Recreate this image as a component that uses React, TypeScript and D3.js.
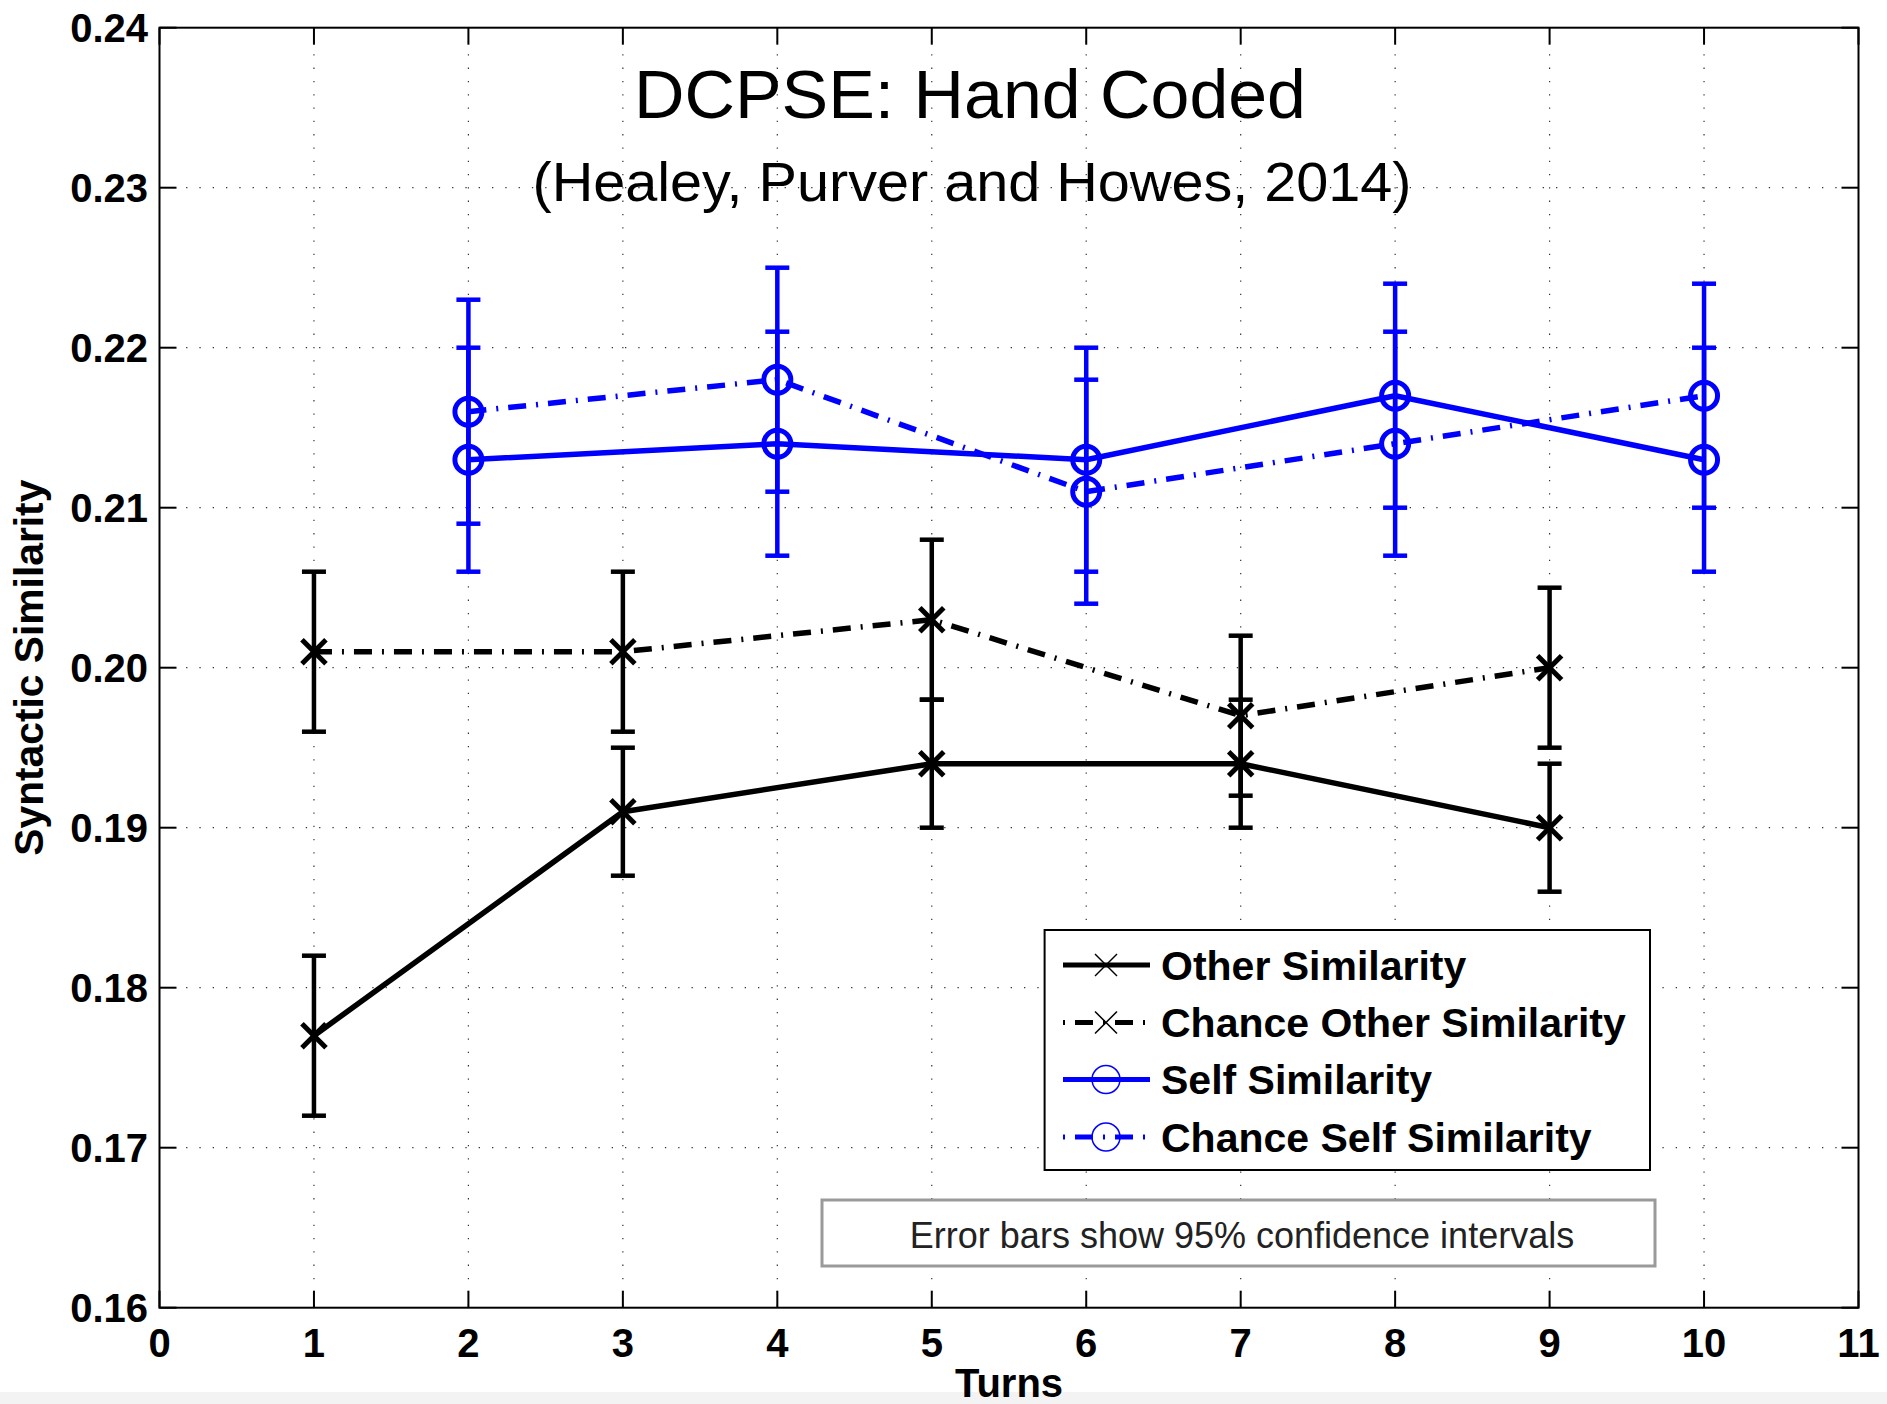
import React from 'react'
import * as d3 from 'd3'

// chart values
const otherTurns = [1, 3, 5, 7, 9]
const otherMean = [0.177, 0.191, 0.194, 0.194, 0.19]
const otherLow = [0.172, 0.187, 0.19, 0.19, 0.186]
const otherHigh = [0.182, 0.195, 0.198, 0.198, 0.194]

const chanceOtherMean = [0.201, 0.201, 0.203, 0.197, 0.2]
const chanceOtherLow = [0.196, 0.196, 0.198, 0.192, 0.195]
const chanceOtherHigh = [0.206, 0.206, 0.208, 0.202, 0.205]

const selfTurns = [2, 4, 6, 8, 10]
const selfMean = [0.213, 0.214, 0.213, 0.217, 0.213]
const selfLow = [0.206, 0.207, 0.206, 0.21, 0.206]
const selfHigh = [0.22, 0.221, 0.22, 0.224, 0.22]

const chanceSelfMean = [0.216, 0.218, 0.211, 0.214, 0.217]
const chanceSelfLow = [0.209, 0.211, 0.204, 0.207, 0.21]
const chanceSelfHigh = [0.223, 0.225, 0.218, 0.221, 0.224]

const xTicks = [0, 1, 2, 3, 4, 5, 6, 7, 8, 9, 10, 11]
const yTicks = [0.16, 0.17, 0.18, 0.19, 0.2, 0.21, 0.22, 0.23, 0.24]
const yTickLabels = ['0.16', '0.17', '0.18', '0.19', '0.20', '0.21', '0.22', '0.23', '0.24']

const legendLabels = ['Other Similarity', 'Chance Other Similarity', 'Self Similarity', 'Chance Self Similarity']

const W = 1887
const H = 1404
const FONT = "'Liberation Sans', Arial, Helvetica, sans-serif"
const BLUE = '#0000ff'
const DASHDOT = '18,10,2,10'

const plot = { left: 159.5, right: 1858.5, top: 27.7, bottom: 1307.7 }

type Series = {
  name: string
  turns: number[]
  mean: number[]
  low: number[]
  high: number[]
  color: string
  dash: string | null
  marker: 'x' | 'o'
}

const series: Series[] = [
  { name: legendLabels[0], turns: otherTurns, mean: otherMean, low: otherLow, high: otherHigh, color: '#000', dash: null, marker: 'x' },
  { name: legendLabels[1], turns: otherTurns, mean: chanceOtherMean, low: chanceOtherLow, high: chanceOtherHigh, color: '#000', dash: DASHDOT, marker: 'x' },
  { name: legendLabels[2], turns: selfTurns, mean: selfMean, low: selfLow, high: selfHigh, color: BLUE, dash: null, marker: 'o' },
  { name: legendLabels[3], turns: selfTurns, mean: chanceSelfMean, low: chanceSelfLow, high: chanceSelfHigh, color: BLUE, dash: DASHDOT, marker: 'o' },
]

const Marker = ({ kind, cx, cy, color, size, width }: { kind: 'x' | 'o'; cx: number; cy: number; color: string; size: number; width: number }) => {
  if (kind === 'o') {
    return <circle cx={cx} cy={cy} r={size} fill="none" stroke={color} strokeWidth={width} />
  }
  return (
    <g stroke={color} strokeWidth={width}>
      <line x1={cx - size} y1={cy - size} x2={cx + size} y2={cy + size} />
      <line x1={cx - size} y1={cy + size} x2={cx + size} y2={cy - size} />
    </g>
  )
}

export default function App() {
  const x = d3.scaleLinear().domain([0, 11]).range([plot.left, plot.right])
  const y = d3.scaleLinear().domain([0.16, 0.24]).range([plot.bottom, plot.top])

  const line = d3
    .line<[number, number]>()
    .x((d) => x(d[0]))
    .y((d) => y(d[1]))

  const tickLen = 17
  const capHalf = 12

  // legend layout
  const lg = { x: 1044.6, y: 930, w: 605.4, h: 240 }
  const rowY = [965, 1022.5, 1079.5, 1137]

  return (
    <div style={{ position: 'absolute', left: 0, top: 0 }}>
      <svg width={W} height={H} style={{ display: 'block', background: '#fff' }} fontFamily={FONT}>
        <rect x={0} y={0} width={W} height={H} fill="#fff" />
        <rect x={0} y={1392} width={W} height={12} fill="#f3f3f3" />

        {/* grid */}
        <g stroke="#333" strokeWidth={1.2} strokeDasharray="1.3,12">
          {xTicks.slice(1, -1).map((t) => (
            <line key={'gx' + t} x1={x(t)} x2={x(t)} y1={plot.top} y2={plot.bottom} />
          ))}
          {yTicks.slice(1, -1).map((t) => (
            <line key={'gy' + t} x1={plot.left} x2={plot.right} y1={y(t)} y2={y(t)} />
          ))}
        </g>

        {/* ticks on all four sides */}
        <g stroke="#000" strokeWidth={2}>
          {xTicks.map((t) => (
            <g key={'tx' + t}>
              <line x1={x(t)} x2={x(t)} y1={plot.bottom} y2={plot.bottom - tickLen} />
              <line x1={x(t)} x2={x(t)} y1={plot.top} y2={plot.top + tickLen} />
            </g>
          ))}
          {yTicks.map((t) => (
            <g key={'ty' + t}>
              <line x1={plot.left} x2={plot.left + tickLen} y1={y(t)} y2={y(t)} />
              <line x1={plot.right} x2={plot.right - tickLen} y1={y(t)} y2={y(t)} />
            </g>
          ))}
        </g>

        {/* title */}
        <text x={970} y={118} textAnchor="middle" fontSize={69} fill="#000" textLength={672} lengthAdjust="spacingAndGlyphs">
          DCPSE: Hand Coded
        </text>
        <text x={972} y={201} textAnchor="middle" fontSize={56} fill="#000" textLength={879} lengthAdjust="spacingAndGlyphs">
          (Healey, Purver and Howes, 2014)
        </text>

        {/* series */}
        {series.map((s) => {
          const pts = s.turns.map((t, i) => [t, s.mean[i]] as [number, number])
          return (
            <g key={s.name}>
              {s.turns.map((t, i) => (
                <g key={'eb' + i} stroke={s.color} strokeWidth={4.5}>
                  <line x1={x(t)} x2={x(t)} y1={y(s.low[i])} y2={y(s.high[i])} />
                  <line x1={x(t) - capHalf} x2={x(t) + capHalf} y1={y(s.low[i])} y2={y(s.low[i])} />
                  <line x1={x(t) - capHalf} x2={x(t) + capHalf} y1={y(s.high[i])} y2={y(s.high[i])} />
                </g>
              ))}
              <path
                d={line(pts) || ''}
                fill="none"
                stroke={s.color}
                strokeWidth={5.5}
                strokeDasharray={s.dash || undefined}
                strokeLinejoin="round"
              />
              {pts.map((p, i) => (
                <Marker key={'m' + i} kind={s.marker} cx={x(p[0])} cy={y(p[1])} color={s.color} size={s.marker === 'o' ? 13.5 : 12} width={5} />
              ))}
            </g>
          )
        })}

        {/* axes frame */}
        <rect x={plot.left} y={plot.top} width={plot.right - plot.left} height={plot.bottom - plot.top} fill="none" stroke="#000" strokeWidth={2} />

        {/* tick labels */}
        <g fontSize={40} fontWeight="bold" fill="#000">
          {yTicks.map((t, i) => (
            <text key={'ly' + t} x={148} y={y(t) + 14.5} textAnchor="end">
              {yTickLabels[i]}
            </text>
          ))}
          {xTicks.map((t) => (
            <text key={'lx' + t} x={x(t)} y={1357} textAnchor="middle">
              {t}
            </text>
          ))}
          <text x={1009} y={1397} textAnchor="middle">
            Turns
          </text>
          <text transform={`translate(43,${(plot.top + plot.bottom) / 2}) rotate(-90)`} textAnchor="middle" textLength={376} lengthAdjust="spacingAndGlyphs">
            Syntactic Similarity
          </text>
        </g>

        {/* legend */}
        <rect x={lg.x} y={lg.y} width={lg.w} height={lg.h} fill="#fff" stroke="#000" strokeWidth={2} />
        {series.map((s, i) => (
          <g key={'lg' + i}>
            <line
              x1={1063}
              x2={1150}
              y1={rowY[i]}
              y2={rowY[i]}
              stroke={s.color}
              strokeWidth={5}
              strokeDasharray={s.dash ? '2,10,18,10' : undefined}
            />
            <Marker kind={s.marker} cx={1106} cy={rowY[i]} color={s.color} size={s.marker === 'o' ? 14 : 11} width={1.5} />
            <text x={1161} y={rowY[i] + 14.5} fontSize={41} fontWeight="bold" fill="#000">
              {s.name}
            </text>
          </g>
        ))}

        {/* note */}
        <rect x={822} y={1200} width={833} height={66} fill="#fff" stroke="#9a9a9a" strokeWidth={3} />
        <text x={1242} y={1248} textAnchor="middle" fontSize={36} fill="#222">
          Error bars show 95% confidence intervals
        </text>
      </svg>
    </div>
  )
}
